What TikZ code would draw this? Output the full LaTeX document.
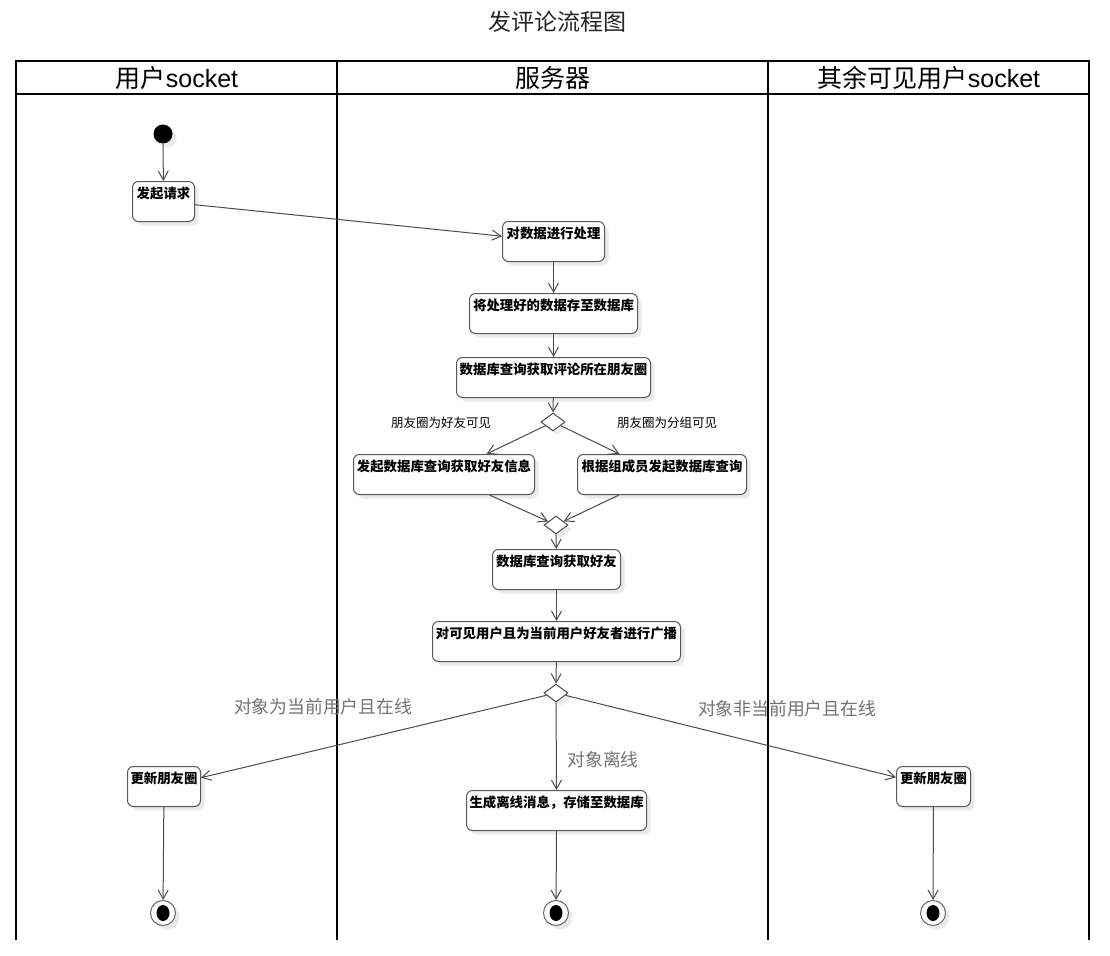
\documentclass[tikz,border=0pt]{standalone}
\usepackage{fontspec}
\setmainfont{Liberation Sans}
\newfontfamily\cjk{Noto Sans CJK SC}
\usetikzlibrary{shapes.geometric,arrows.meta,shadows}
\begin{document}
\begin{tikzpicture}[x=1pt,y=-1pt,
  lane/.style={draw=black, line width=1.8pt},
  shade/.style={drop shadow={shadow xshift=4pt, shadow yshift=-4pt, fill=black!8, opacity=1}},
  box/.style={draw=black!65, line width=1pt, rounded corners=6pt, fill=white, shade,
    font=\cjk\bfseries\fontsize{13.4}{15}\selectfont, inner xsep=3pt, inner ysep=3pt,
    text height=14pt, text depth=20pt, anchor=north west, align=center},
  dec/.style={shape=diamond, draw=black!70, line width=1pt, fill=white, shade,
    minimum width=24pt, minimum height=18pt, inner sep=0pt},
  startnode/.style={circle, fill=black, minimum size=19pt, inner sep=0pt, shade},
  endnode/.style={circle, draw=black!60, line width=1pt, fill=white, minimum size=25pt, inner sep=0pt, shade,
    path picture={\fill[black] (path picture bounding box.center) ellipse (6.5pt and 8pt);}},
  arr/.style={draw=black!70, line width=1pt, -{Straight Barb[length=9pt,width=10pt]}},
  guard/.style={font=\cjk\fontsize{12.5}{14}\selectfont},
  glabel/.style={font=\cjk\fontsize{17.8}{20}\selectfont, text=black!55},
  head/.style={font=\fontsize{25}{29}\selectfont}
]
\useasboundingbox (0,0) rectangle (1110,955);
\fill[white] (0,0) rectangle (1110,955);

% title
\node[font=\cjk\fontsize{23}{26}\selectfont, text=black!85] (title) at (557,22) {发评论流程图};

% swimlanes
\draw[lane] (16,940) -- (16,61) -- (1089,61) -- (1089,940);
\draw[lane] (16,94) -- (1089,94);
\draw[lane] (337,61) -- (337,940);
\draw[lane] (768,61) -- (768,940);
\node[head] (h1) at (177,78) {{\cjk 用户}socket};
\node[head] (h2) at (553,78) {{\cjk 服务器}};
\node[head] (h3) at (929,78) {{\cjk 其余可见用户}socket};

% nodes
\node[startnode] (s) at (163,134) {};
\node[box, minimum width=62pt] (b1) at (132,181) {发起请求};
\node[box, minimum width=102pt] (b2) at (502,221) {对数据进行处理};
\node[box, minimum width=168pt] (b3) at (469,293) {将处理好的数据存至数据库};
\node[box, minimum width=194pt] (b4) at (456,357) {数据库查询获取评论所在朋友圈};
\node[dec] (d1) at (553,422) {};
\node[box, minimum width=181pt] (b5) at (353,454) {发起数据库查询获取好友信息};
\node[box, minimum width=169pt] (b6) at (577,454) {根据组成员发起数据库查询};
\node[dec] (d2) at (556,525) {};
\node[box, minimum width=128pt] (b7) at (492,549) {数据库查询获取好友};
\node[box, minimum width=248pt] (b8) at (432,621) {对可见用户且为当前用户好友者进行广播};
\node[dec] (d3) at (556,693) {};
\node[box, minimum width=72pt] (b9) at (127,766) {更新朋友圈};
\node[box, minimum width=180pt] (b10) at (466,790) {生成离线消息，存储至数据库};
\node[box, minimum width=74pt] (b11) at (896,766) {更新朋友圈};
\node[endnode] (e1) at (163,913) {};
\node[endnode] (e2) at (556,913) {};
\node[endnode] (e3) at (933,913) {};

% guard labels
\node[guard] (g1) at (441,423) {朋友圈为好友可见};
\node[guard] (g2) at (667,423) {朋友圈为分组可见};
\node[glabel] (g3) at (323,707) {对象为当前用户且在线};
\node[glabel] (g4) at (787,709) {对象非当前用户且在线};
\node[glabel] (g5) at (603,760) {对象离线};

% connectors
\draw[arr] (s) -- (b1);
\draw[arr] (b1) -- (b2);
\draw[arr] (b2) -- (b3);
\draw[arr] (b3) -- (b4);
\draw[arr] (b4) -- (d1);
\draw[arr] (d1) -- (b5);
\draw[arr] (d1) -- (b6);
\draw[arr] (b5) -- (d2);
\draw[arr] (b6) -- (d2);
\draw[arr] (d2) -- (b7);
\draw[arr] (b7) -- (b8);
\draw[arr] (b8) -- (d3);
\draw[arr] (d3) -- (b9);
\draw[arr] (d3) -- (b10);
\draw[arr] (d3) -- (b11);
\draw[arr] (b9) -- (e1);
\draw[arr] (b10) -- (e2);
\draw[arr] (b11) -- (e3);
\end{tikzpicture}
\end{document}
